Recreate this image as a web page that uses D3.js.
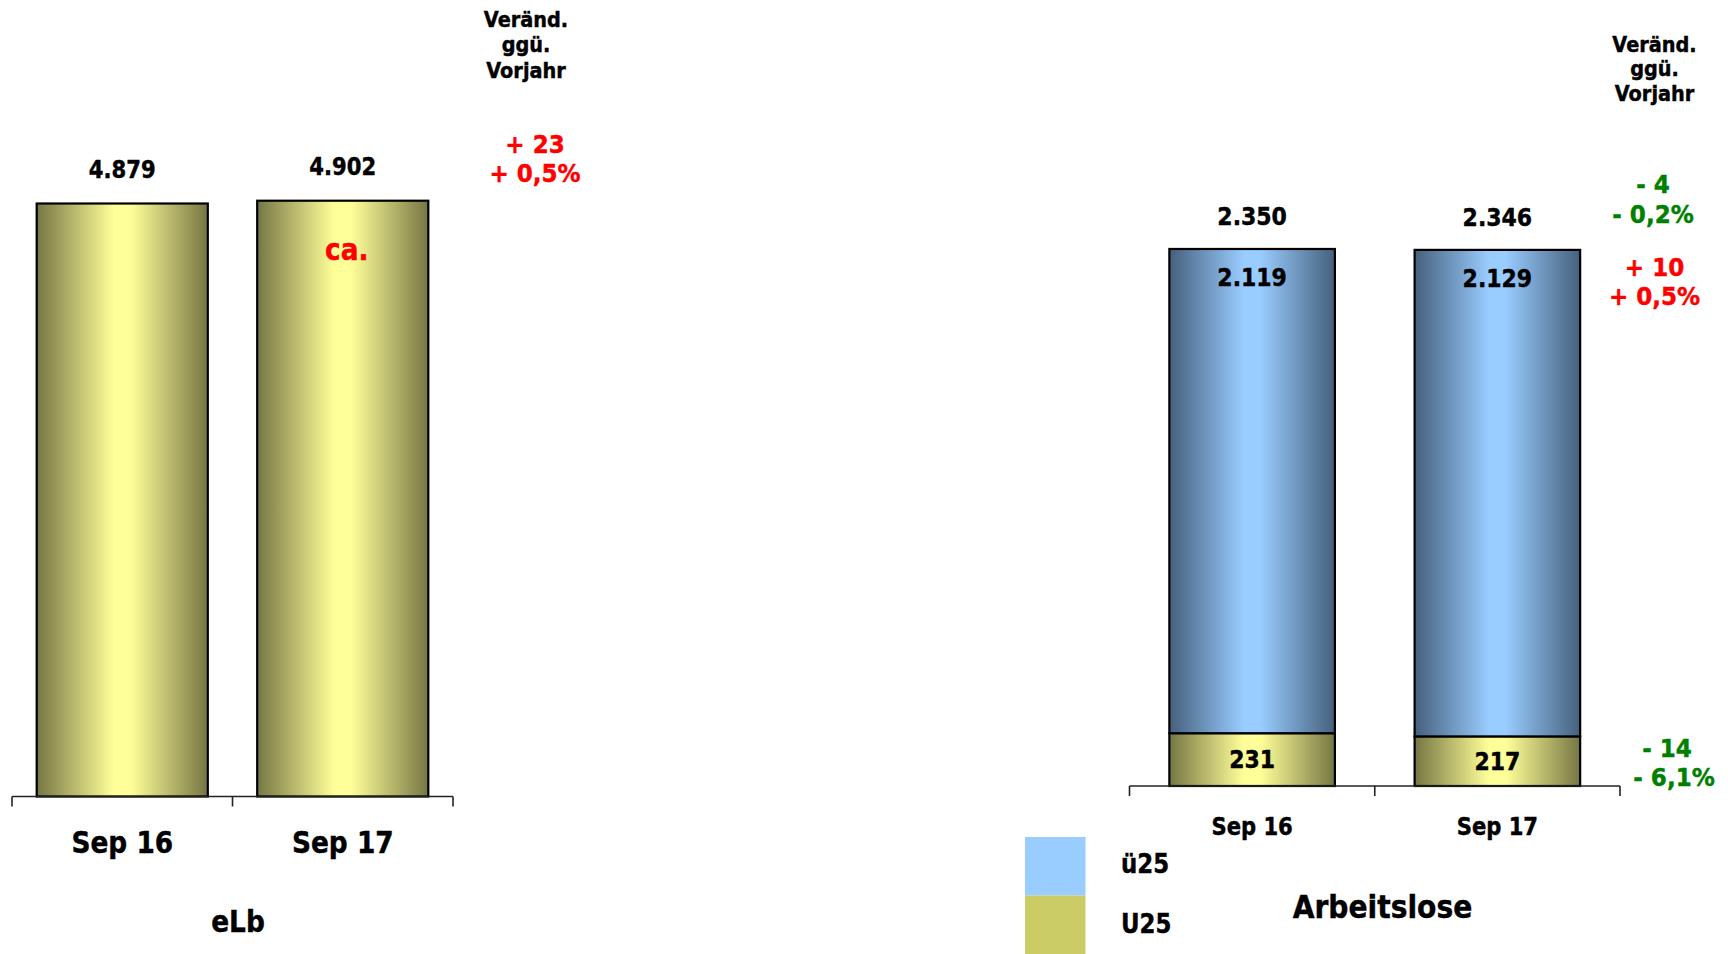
<!DOCTYPE html>
<html>
<head>
<meta charset="utf-8">
<script src="https://cdn.jsdelivr.net/npm/d3@7"></script>
<style>
  html, body { margin: 0; padding: 0; background: #ffffff; }
  svg { display: block; }
  text { font-family: "DejaVu Sans", Verdana, sans-serif; font-weight: bold; }
</style>
</head>
<body>
<svg id="chart" width="1728" height="954"></svg>
<script>
// ---------- data ----------
const categories = ["Sep 16", "Sep 17"];
const elbValues = [4879, 4902];
const ue25Values = [2119, 2129];
const u25Values = [231, 217];
const totalValues = [2350, 2346];
const headerLines = ["Veränd.", "ggü.", "Vorjahr"];
const elbChange = ["+ 23", "+ 0,5%"];
const totalChange = ["- 4", "- 0,2%"];
const ue25Change = ["+ 10", "+ 0,5%"];
const u25Change = ["- 14", "- 6,1%"];
const legendLabels = ["ü25", "U25"];
const leftTitle = "eLb";
const rightTitle = "Arbeitslose";
const noteText = "ca.";

// ---------- setup ----------
const svg = d3.select("#chart");
const SX = 0.88; // horizontal text compression (Tahoma-like)
const RED = "#ff0000", GREEN = "#008000", BLACK = "#000000";

const defs = svg.append("defs");
function grad(id, edge, mid) {
  const g = defs.append("linearGradient").attr("id", id)
    .attr("x1", "0%").attr("x2", "100%").attr("y1", "0%").attr("y2", "0%");
  g.append("stop").attr("offset", "0%").attr("stop-color", edge);
  g.append("stop").attr("offset", "45%").attr("stop-color", mid);
  g.append("stop").attr("offset", "55%").attr("stop-color", mid);
  g.append("stop").attr("offset", "100%").attr("stop-color", edge);
}
grad("olive", "#767644", "#ffff99");
grad("blue", "#45607c", "#99ccff");

function label(x, y, txt, size, color, anchor, sx) {
  const c = color || BLACK;
  svg.append("text")
    .attr("transform", `translate(${x},${y}) scale(${sx || SX},1)`)
    .attr("text-anchor", anchor || "middle")
    .attr("font-size", size)
    .attr("fill", c)
    .attr("stroke", c).attr("stroke-width", 0.45)
    .text(txt);
}

function boundaryTicks(x, y0, len) {
  const r = x.range();
  const half = x.step() * x.paddingInner() / 2;
  const b = [r[0]].concat(categories.slice(1).map(c => x(c) - half), [r[1]]);
  const g = svg.append("g").attr("stroke", "#222").attr("stroke-width", 1.6).attr("fill", "none");
  g.append("line").attr("x1", r[0]).attr("x2", r[1]).attr("y1", y0).attr("y2", y0);
  g.selectAll("line.t").data(b).join("line").attr("class", "t")
    .attr("x1", d => d).attr("x2", d => d).attr("y1", y0).attr("y2", y0 + len);
}

function catAxis(x, y0, dy, size) {
  const ax = svg.append("g").attr("transform", `translate(0,${y0})`)
    .call(d3.axisBottom(x).tickSize(0).tickPadding(0));
  ax.select(".domain").remove();
  ax.selectAll("text")
    .attr("y", dy).attr("dy", 0)
    .attr("font-size", size)
    .attr("font-family", "DejaVu Sans, Verdana, sans-serif")
    .attr("font-weight", "bold")
    .attr("fill", BLACK)
    .attr("stroke", BLACK).attr("stroke-width", 0.45)
    .attr("transform", `scale(${SX},1)`);
}

// ---------- left chart: eLb ----------
const xL = d3.scaleBand().domain(categories).range([12, 453])
  .paddingInner(0.224).paddingOuter(0.112);
const yL = d3.scaleLinear().domain([0, 5000]).range([796.5, 188.8]);

svg.append("g").selectAll("rect").data(elbValues).join("rect")
  .attr("x", (d, i) => xL(categories[i]))
  .attr("width", xL.bandwidth())
  .attr("y", d => yL(d))
  .attr("height", d => yL(0) - yL(d))
  .attr("fill", "url(#olive)")
  .attr("stroke", BLACK).attr("stroke-width", 2.2);

const fmt = v => d3.format(",")(v).replace(/,/g, ".");
elbValues.forEach((v, i) => {
  label(xL(categories[i]) + xL.bandwidth() / 2, yL(v) - 26, fmt(v), 24);
});
label(xL(categories[1]) + xL.bandwidth() / 2 + 4, yL(elbValues[1]) + 59, noteText, 30, RED);

boundaryTicks(xL, 796.5, 10);
catAxis(xL, 796.5, 56.5, 30);
label(238, 931.5, leftTitle, 30);

headerLines.forEach((t, i) => label(526, 26.5 + i * 25.5, t, 21, BLACK, "middle", 0.92));
elbChange.forEach((t, i) => label(535, 152.5 + i * 29, t, 24, RED, "middle", 0.96));

// ---------- right chart: Arbeitslose ----------
const xR = d3.scaleBand().domain(categories).range([1129.5, 1620])
  .paddingInner(0.325).paddingOuter(0.1625);
const yR = d3.scaleLinear().domain([0, 2500]).range([786, 214.7]);

const stack = categories.map((c, i) => ({ cat: c, u25: u25Values[i], ue25: ue25Values[i] }));
const series = d3.stack().keys(["u25", "ue25"])(stack);
const fills = { u25: "url(#olive)", ue25: "url(#blue)" };

series.forEach(s => {
  svg.append("g").selectAll("rect").data(s).join("rect")
    .attr("x", d => xR(d.data.cat))
    .attr("width", xR.bandwidth())
    .attr("y", d => yR(d[1]))
    .attr("height", d => yR(d[0]) - yR(d[1]))
    .attr("fill", fills[s.key])
    .attr("stroke", BLACK).attr("stroke-width", 2.2);
});

categories.forEach((c, i) => {
  const cx = xR(c) + xR.bandwidth() / 2;
  label(cx, yR(totalValues[i]) - 24, fmt(totalValues[i]), 25);
  label(cx, yR(totalValues[i]) + 37, fmt(ue25Values[i]), 25);
  label(cx, (yR(0) + yR(u25Values[i])) / 2 + 8.5, fmt(u25Values[i]), 25);
});

boundaryTicks(xR, 786, 10);
catAxis(xR, 786, 49, 24);

headerLines.forEach((t, i) => label(1654.5, 51.5 + i * 24.5, t, 21, BLACK, "middle", 0.92));
totalChange.forEach((t, i) => label(1653, 193.3 + i * 29.4, t, 24, GREEN, "middle", 0.96));
ue25Change.forEach((t, i) => label(1654.5, 276 + i * 29, t, 24, RED, "middle", 0.96));
label(1667, 756.7, u25Change[0], 24, GREEN, "middle", 0.96);
label(1674, 786, u25Change[1], 24, GREEN, "middle", 0.96);

// legend
const legendColors = ["#99ccff", "#cccc66"];
const legY = d3.scaleBand().domain(legendLabels).range([837, 954]).padding(0);
svg.append("g").selectAll("rect").data(legendLabels).join("rect")
  .attr("x", 1025).attr("width", 60.5)
  .attr("y", d => legY(d)).attr("height", legY.bandwidth())
  .attr("fill", (d, i) => legendColors[i]);
legendLabels.forEach((t, i) => label(1121, legY(t) + 36 + i * 1.5, t, 26, BLACK, "start"));

label(1382.5, 918, rightTitle, 32);
</script>
</body>
</html>
